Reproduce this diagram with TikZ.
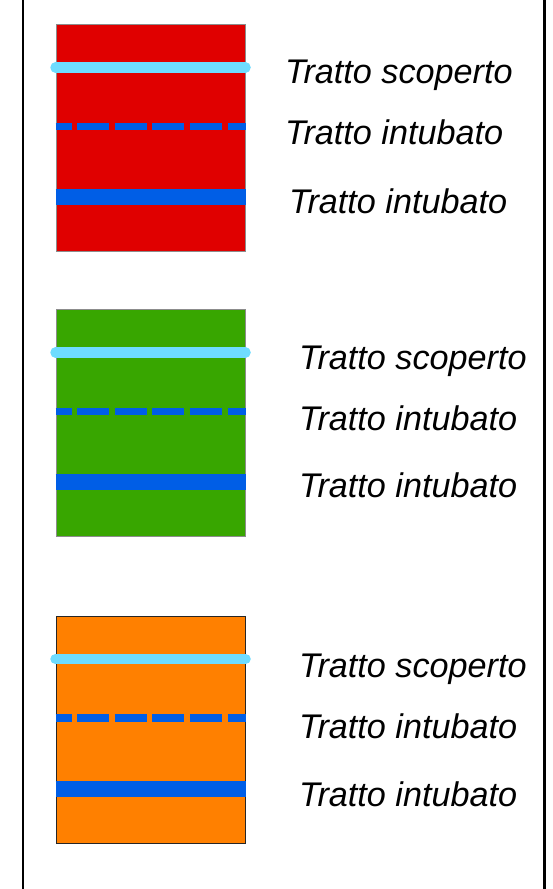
\documentclass[tikz,border=0pt]{standalone}
\usepackage{fontspec}
\setmainfont{Liberation Sans}
\definecolor{boxred}{RGB}{224,0,0}
\definecolor{boxgreen}{RGB}{56,166,0}
\definecolor{boxorange}{RGB}{255,128,0}
\definecolor{openblue}{RGB}{110,220,255}
\definecolor{pipeblue}{RGB}{0,94,230}
\begin{document}
\begin{tikzpicture}[x=1pt,y=-1pt]
        \tikzstyle{legbox}=[rectangle,inner sep=0pt,minimum width=189pt,minimum height=227pt,line width=1pt]
        \tikzstyle{scoperto}=[draw=openblue,line width=10.5pt,line cap=round]
        \tikzstyle{intubato}=[draw=pipeblue,line width=7.5pt,dash pattern=on 32pt off 5.6pt,dash phase=16pt]
        \tikzstyle{tubo}=[draw=pipeblue,line width=16pt]
        \tikzstyle{legtext}=[anchor=base west,inner sep=0pt,font=\itshape\fontsize{34.2}{40}\selectfont]
        \useasboundingbox (0,0) rectangle (553,889);
        \draw[line width=2.2pt] (22.6,0) -- (22.6,889);
        \draw[line width=2.2pt] (544.4,0) -- (544.4,889);
       % rosso
       \begin{scope}
         \node [legbox,fill=boxred,draw=black!45] (rbox) at (150.5,137.5) {};
         \path[scoperto] ([yshift=-44pt]rbox.north west) -- ([yshift=-44pt]rbox.north east);
         \path[intubato] ([yshift=-103pt]rbox.north west) -- ([yshift=-103pt]rbox.north east);
         \path[tubo] ([yshift=-173.5pt]rbox.north west) -- ([yshift=-173.5pt]rbox.north east);
         \node [legtext] (rt1) at (285,83) {Tratto scoperto};
         \node [legtext] (rt2) at (285,144) {Tratto intubato};
         \node [legtext] (rt3) at (289,213) {Tratto intubato};
        \end{scope}
       % verde
       \begin{scope}
         \node [legbox,fill=boxgreen,draw=black!45] (gbox) at (150.5,422.5) {};
         \path[scoperto] ([yshift=-44pt]gbox.north west) -- ([yshift=-44pt]gbox.north east);
         \path[intubato] ([yshift=-103pt]gbox.north west) -- ([yshift=-103pt]gbox.north east);
         \path[tubo] ([yshift=-173.5pt]gbox.north west) -- ([yshift=-173.5pt]gbox.north east);
         \node [legtext] (gt1) at (299,369) {Tratto scoperto};
         \node [legtext] (gt2) at (299,430) {Tratto intubato};
         \node [legtext] (gt3) at (299,497) {Tratto intubato};
        \end{scope}
       % arancione
       \begin{scope}
         \node [legbox,fill=boxorange,draw=black!85] (obox) at (150.5,730) {};
         \path[scoperto] ([yshift=-43pt]obox.north west) -- ([yshift=-43pt]obox.north east);
         \path[intubato] ([yshift=-102pt]obox.north west) -- ([yshift=-102pt]obox.north east);
         \path[tubo] ([yshift=-173pt]obox.north west) -- ([yshift=-173pt]obox.north east);
         \node [legtext] (ot1) at (299,677) {Tratto scoperto};
         \node [legtext] (ot2) at (299,738) {Tratto intubato};
         \node [legtext] (ot3) at (299,806) {Tratto intubato};
        \end{scope}
      \end{tikzpicture}
\end{document}
